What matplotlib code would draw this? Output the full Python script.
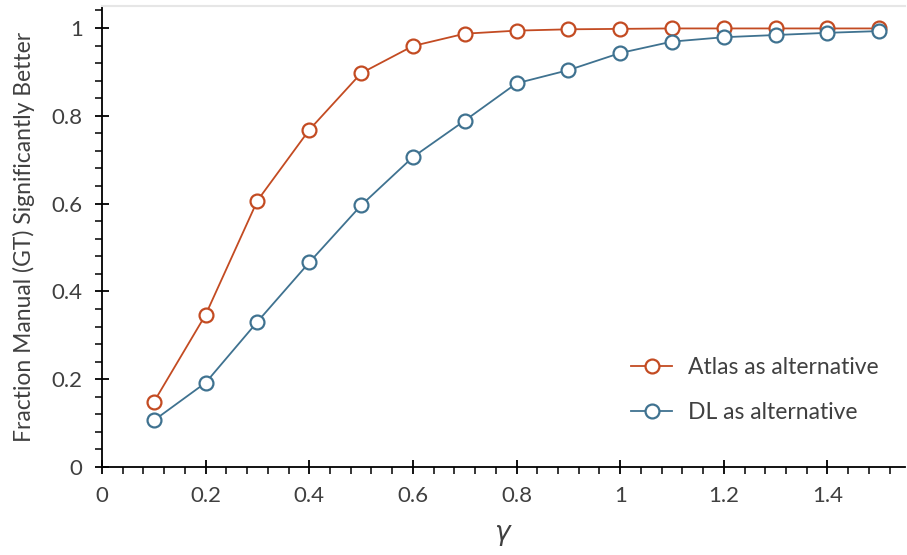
import matplotlib
matplotlib.use("Agg")
import matplotlib.pyplot as plt
from matplotlib.ticker import MultipleLocator, FuncFormatter

gamma = [0.1, 0.2, 0.3, 0.4, 0.5, 0.6, 0.7, 0.8, 0.9, 1.0, 1.1, 1.2, 1.3, 1.4, 1.5]
atlas = [0.148, 0.347, 0.607, 0.768, 0.897, 0.959, 0.987, 0.994, 0.997, 0.998, 0.999, 0.999, 0.999, 0.999, 0.999]
dl = [0.106, 0.192, 0.331, 0.466, 0.596, 0.706, 0.789, 0.874, 0.904, 0.943, 0.969, 0.979, 0.984, 0.989, 0.993]
labels = ["Atlas as alternative", "DL as alternative"]
colors = ["#C34B22", "#3F7290"]

plt.rcParams['font.family'] = ['Lato', 'DejaVu Sans']
fig = plt.figure(figsize=(9.07, 5.55), dpi=100)
ax = fig.add_axes([0.1125, 0.1586, 0.8855, 0.8305])

for y, lab, c in zip([atlas, dl], labels, colors):
    ax.plot(gamma, y, '-o', color=c, lw=1.3, ms=10, mfc='white', mec=c, mew=1.6, label=lab)

ax.set_xlim(0, 1.55)
ax.set_ylim(0, 1.05)
ax.xaxis.set_major_locator(MultipleLocator(0.2))
ax.xaxis.set_minor_locator(MultipleLocator(0.04))
ax.yaxis.set_major_locator(MultipleLocator(0.2))
ax.yaxis.set_minor_locator(MultipleLocator(0.04))
fmt = FuncFormatter(lambda v, p: ('%g' % round(v, 2)))
ax.xaxis.set_major_formatter(fmt)
ax.yaxis.set_major_formatter(fmt)
ax.tick_params(which='major', direction='inout', length=10, width=1.3, labelsize=16, labelcolor='#404040', pad=9)
ax.tick_params(which='minor', direction='out', length=5, width=1.1)
for s in ['left', 'bottom']:
    ax.spines[s].set_linewidth(1.3)
ax.spines['right'].set_visible(False)
ax.spines['top'].set_color('#e6e6e6')
ax.spines['top'].set_linewidth(1.5)

ax.set_xlabel(r'$\gamma$', fontsize=19, color='#404040', labelpad=12)
ax.set_ylabel('Fraction Manual (GT) Significantly Better', fontsize=16.5, color='#404040', labelpad=12)

ax.legend(loc='lower right', bbox_to_anchor=(0.993, 0.05), frameon=False, fontsize=16.5,
          labelcolor='#404040', handlelength=1.8, handletextpad=0.7, labelspacing=1.05)

fig.savefig('out.png', dpi=100)
